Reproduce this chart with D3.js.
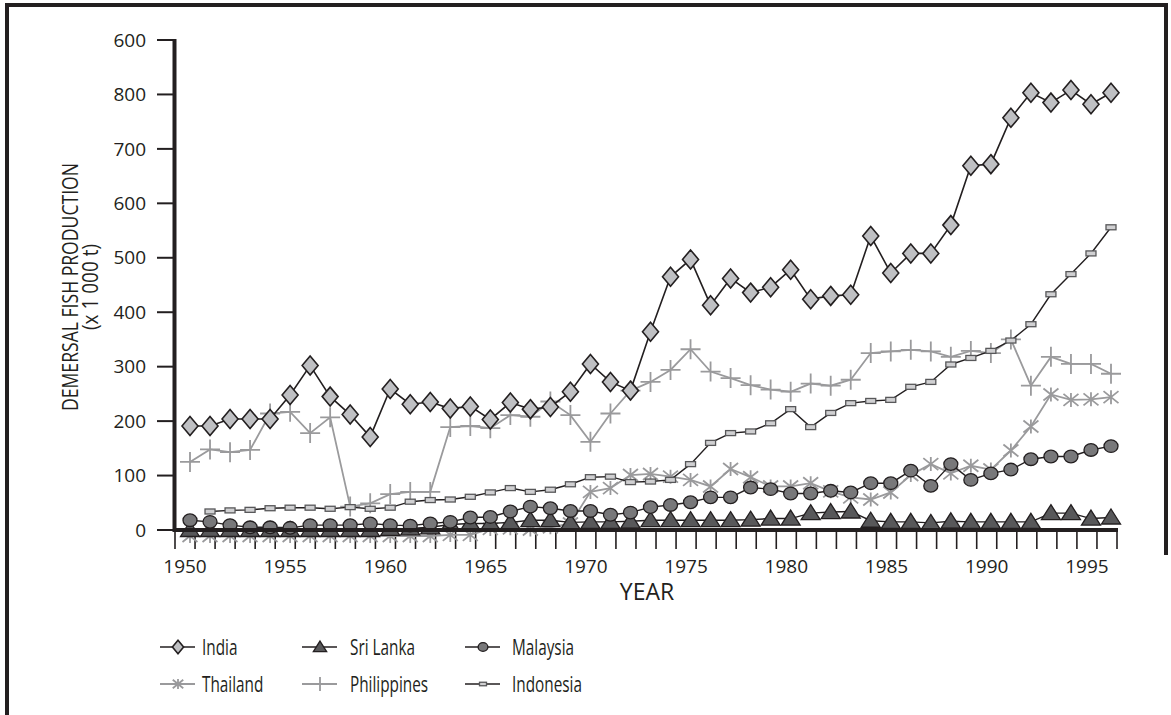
<!DOCTYPE html>
<meta charset="utf-8">

<script src="https://d3js.org/d3.v7.min.js"></script>

<style type="text/css">

body {
    margin: 0;
    background: #fff;
}

svg {
    display: block;
    font-family: "Open Sans", "Liberation Sans", sans-serif;
}

.tickLabel {
    font-size: 19px;
    fill: #231f20;
}

.axisTitle {
    font-size: 21px;
    fill: #231f20;
}

.xTitle {
    font-size: 23px;
    fill: #231f20;
}

.legendText {
    font-size: 21px;
    fill: #231f20;
}

</style>

<body>
</body>

<script>

var years = d3.range(1950, 1997);

var yTickValues = [0, 100, 200, 300, 400, 500, 600, 700, 800, 900];
var yTickLabels = ["0", "100", "200", "300", "400", "500", "600", "700", "800", "600"];
var xTickLabels = ["1950", "1955", "1960", "1965", "1970", "1975", "1980", "1985", "1990", "1995"];

var india = [191, 191, 204, 204, 204, 248, 302, 245, 212, 171,
             259, 231, 235, 223, 227, 203, 234, 222, 226, 254,
             305, 272, 256, 364, 465, 497, 413, 462, 436, 446,
             478, 424, 430, 432, 540, 472, 508, 508, 560, 669,
             672, 757, 803, 785, 808, 782, 803];

var sriLanka = [0, 0, 0, 0, 0, 0, 0, 0, 0, 0,
                2, 3, 5, 10, 12, 12, 14, 18, 18, 14,
                15, 15, 16, 18, 18, 18, 18, 18, 19, 21,
                21, 31, 33, 34, 17, 15, 15, 13, 16, 15,
                15, 15, 15, 31, 31, 21, 23];

var malaysia = [18, 15, 9, 5, 5, 4, 9, 9, 9, 12,
                9, 8, 12, 15, 23, 24, 34, 43, 40, 35,
                35, 28, 32, 42, 46, 51, 60, 60, 78, 75,
                67, 67, 72, 69, 86, 86, 109, 81, 121, 92,
                104, 111, 130, 135, 135, 147, 154];

var thailand = [-11, -11, -11, -11, -11, -11, -11, -11, -11, -11,
                -11, -11, -11, -9, -9, 2, 3, 1, 5, 12,
                70, 77, 101, 103, 98, 92, 80, 112, 97, 80,
                80, 86, 71, 60, 56, 69, 101, 121, 104, 118,
                111, 146, 190, 249, 239, 240, 244];

var philippines = [125, 148, 143, 147, 214, 217, 178, 207, 43, 49,
                   66, 70, 70, 189, 191, 187, 211, 208, 236, 211,
                   162, 214, 256, 272, 294, 332, 291, 279, 266, 258,
                   254, 269, 265, 276, 325, 328, 331, 328, 318, 329,
                   325, 350, 265, 318, 305, 305, 287];

var indonesia = [null, 34, 36, 37, 40, 41, 41, 39, 42, 39,
                 41, 52, 55, 56, 61, 69, 77, 70, 74, 84,
                 97, 98, 88, 89, 92, 121, 160, 178, 181, 196,
                 222, 189, 215, 233, 237, 239, 263, 272, 304, 316,
                 329, 348, 378, 433, 470, 508, 556];

var seriesNames = ["India", "Sri Lanka", "Malaysia", "Thailand", "Philippines", "Indonesia"];

var width = 1171,
    height = 715;

var svg = d3.select("body").append("svg")
    .attr("width", width)
    .attr("height", height);

// frame of the figure
svg.append("path")
    .attr("d", "M7,715 V5 H1166 V555")
    .attr("fill", "none")
    .attr("stroke", "#231f20")
    .attr("stroke-width", 4);

var xBand = d3.scaleBand()
    .domain(years)
    .range([175, 1117]);

var xScale = d3.scalePoint()
    .domain(years)
    .range([190, 1111]);

var yScale = d3.scaleLinear()
    .domain([0, 900])
    .range([530, 40]);

// y axis
var yAxisGroup = svg.append("g").attr("class", "y axis");

yAxisGroup.selectAll(".yTick")
    .data(yTickValues)
    .enter()
    .append("line")
    .attr("x1", 157)
    .attr("x2", 174)
    .attr("y1", function(d) { return yScale(d); })
    .attr("y2", function(d) { return yScale(d); })
    .attr("stroke", "#231f20")
    .attr("stroke-width", 2);

yAxisGroup.selectAll(".tickLabel")
    .data(yTickValues)
    .enter()
    .append("text")
    .attr("class", "tickLabel")
    .attr("x", 146)
    .attr("y", function(d) { return yScale(d); })
    .attr("dy", "0.35em")
    .attr("text-anchor", "end")
    .text(function(d, i) { return yTickLabels[i]; });

yAxisGroup.append("line")
    .attr("x1", 174.5)
    .attr("x2", 174.5)
    .attr("y1", yScale(900) - 1)
    .attr("y2", yScale(0) + 2)
    .attr("stroke", "#231f20")
    .attr("stroke-width", 4);

// x axis
var xAxisGroup = svg.append("g").attr("class", "x axis");

var xTickPos = years.map(function(d) { return xBand(d); }).concat([xBand.range()[1]]);

xAxisGroup.selectAll(".xTick")
    .data(xTickPos)
    .enter()
    .append("line")
    .attr("x1", function(d) { return d; })
    .attr("x2", function(d) { return d; })
    .attr("y1", yScale(0))
    .attr("y2", yScale(0) + 19)
    .attr("stroke", "#231f20")
    .attr("stroke-width", 1.6);

xAxisGroup.selectAll(".tickLabel")
    .data(xTickLabels)
    .enter()
    .append("text")
    .attr("class", "tickLabel")
    .attr("x", function(d) { return xBand(+d) + xBand.bandwidth() / 2; })
    .attr("y", 573)
    .attr("text-anchor", "middle")
    .text(function(d) { return d; });

svg.append("text")
    .attr("class", "xTitle")
    .attr("x", 647)
    .attr("y", 600)
    .attr("text-anchor", "middle")
    .text("YEAR");

svg.append("text")
    .attr("class", "axisTitle")
    .attr("transform", "translate(78,287) rotate(-90)")
    .attr("text-anchor", "middle")
    .attr("textLength", 248)
    .attr("lengthAdjust", "spacingAndGlyphs")
    .text("DEMERSAL FISH PRODUCTION");

svg.append("text")
    .attr("class", "axisTitle")
    .attr("transform", "translate(98,287) rotate(-90)")
    .attr("text-anchor", "middle")
    .attr("textLength", 86)
    .attr("lengthAdjust", "spacingAndGlyphs")
    .text("(x 1 000 t)");

// marker styles per series
var styles = {
    "India":       {values: india,       line: "#231f20", lw: 1.6, marker: "diamond"},
    "Sri Lanka":   {values: sriLanka,    line: "#231f20", lw: 1.4, marker: "triangle"},
    "Malaysia":    {values: malaysia,    line: "#231f20", lw: 1.4, marker: "circle"},
    "Thailand":    {values: thailand,    line: "#9a9a9c", lw: 1.8, marker: "asterisk"},
    "Philippines": {values: philippines, line: "#9a9a9c", lw: 1.8, marker: "plus"},
    "Indonesia":   {values: indonesia,   line: "#231f20", lw: 1.4, marker: "rect"}
};

function drawMarker(g, type, k) {
    if (type == "diamond") {
        g.append("path")
            .attr("d", "M0," + (-9.5 * k) + "L" + (8 * k) + ",0L0," + (9.5 * k) + "L" + (-8 * k) + ",0Z")
            .attr("fill", "#bfc0c3")
            .attr("stroke", "#231f20")
            .attr("stroke-width", 1.6);
    } else if (type == "triangle") {
        g.append("path")
            .attr("d", "M0," + (-8.5 * k) + "L" + (9.5 * k) + "," + (6.5 * k) + "L" + (-9.5 * k) + "," + (6.5 * k) + "Z")
            .attr("fill", "#58585a")
            .attr("stroke", "#231f20")
            .attr("stroke-width", 1.3);
    } else if (type == "circle") {
        g.append("ellipse")
            .attr("rx", 7 * k)
            .attr("ry", 6.3 * k)
            .attr("fill", "#78787a")
            .attr("stroke", "#231f20")
            .attr("stroke-width", 1.3);
    } else if (type == "rect") {
        g.append("rect")
            .attr("x", -5 * k)
            .attr("y", -2.5 * k)
            .attr("width", 10 * k)
            .attr("height", 5 * k)
            .attr("fill", "#d0d0d2")
            .attr("stroke", "#58585a")
            .attr("stroke-width", 1.3);
    } else if (type == "plus") {
        g.append("path")
            .attr("d", "M" + (-10 * k) + ",0H" + (10 * k) + "M0," + (-10 * k) + "V" + (10 * k))
            .attr("stroke", "#9a9a9c")
            .attr("stroke-width", 1.8);
    } else if (type == "asterisk") {
        g.append("path")
            .attr("d", "M" + (-7.5 * k) + "," + (-6 * k) + "L" + (7.5 * k) + "," + (6 * k) +
                       "M" + (-7.5 * k) + "," + (6 * k) + "L" + (7.5 * k) + "," + (-6 * k) +
                       "M0," + (-7 * k) + "V" + (7 * k))
            .attr("stroke", "#9a9a9c")
            .attr("stroke-width", 1.8);
    }
}

var line = d3.line()
    .defined(function(d) { return d.v != null; })
    .x(function(d) { return xScale(d.year); })
    .y(function(d) { return yScale(d.v); });

// draw order: bottom series first
var drawOrder = ["Thailand", "Philippines", "Indonesia", "Sri Lanka", "Malaysia", "India"];

drawOrder.forEach(function(name) {
    var s = styles[name];
    var pts = years.map(function(y, i) { return {year: y, v: s.values[i]}; });

    var g = svg.append("g").attr("class", "series");

    g.append("path")
        .datum(pts)
        .attr("d", line)
        .attr("fill", "none")
        .attr("stroke", s.line)
        .attr("stroke-width", s.lw);

    g.selectAll(".pt")
        .data(pts.filter(function(d) { return d.v != null; }))
        .enter()
        .append("g")
        .attr("class", "pt")
        .attr("transform", function(d) { return "translate(" + xScale(d.year) + "," + yScale(d.v) + ")"; })
        .each(function() { drawMarker(d3.select(this), s.marker, 1); });
});

// redraw x axis bar over markers that sit on zero
svg.append("line")
    .attr("x1", 173)
    .attr("x2", xBand.range()[1] + 1)
    .attr("y1", yScale(0))
    .attr("y2", yScale(0))
    .attr("stroke", "#231f20")
    .attr("stroke-width", 4);

// legend
var legendCols = [160, 302, 465];
var legendRows = [647, 684];

var legend = svg.selectAll(".legendItem")
    .data(seriesNames)
    .enter()
    .append("g")
    .attr("class", "legendItem")
    .attr("transform", function(d, i) {
        return "translate(" + legendCols[i % 3] + "," + legendRows[Math.floor(i / 3)] + ")";
    });

legend.append("line")
    .attr("x1", 0)
    .attr("x2", 35)
    .attr("stroke", function(d) { return styles[d].line; })
    .attr("stroke-width", function(d) { return styles[d].lw; });

legend.append("g")
    .attr("transform", "translate(18,0)")
    .each(function(d) { drawMarker(d3.select(this), styles[d].marker, 0.7); });

// the legend lettering in the figure is narrow, so squeeze it
legend.append("g")
    .attr("transform", function(d, i) { return "translate(" + [42, 48, 47][i % 3] + ",8) scale(0.73,1)"; })
    .append("text")
    .attr("class", "legendText")
    .text(function(d) { return d; });

</script>
